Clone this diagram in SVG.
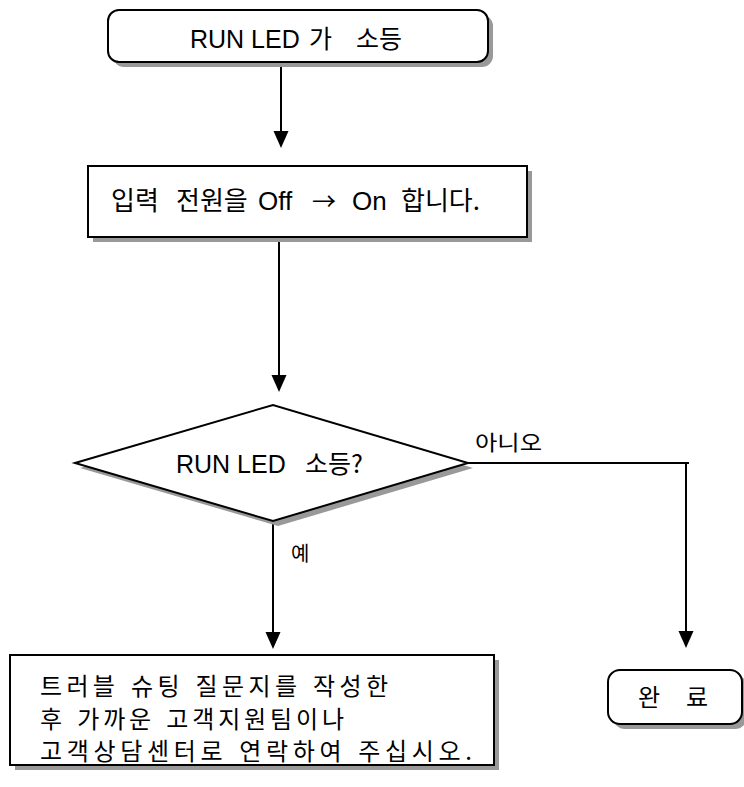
<svg xmlns="http://www.w3.org/2000/svg" width="744" height="787" viewBox="0 0 744 787">
<style>
.box{fill:#fff;stroke:#000;stroke-width:2}
.sh{fill:#999;stroke:none}
.t{font-family:"Liberation Sans","Noto Sans CJK KR",sans-serif;fill:#000}
.k{font-family:"Noto Sans CJK KR","Liberation Sans",sans-serif;fill:#000}
.ln{stroke:#000;stroke-width:2;fill:none}
.ah{fill:#000}
.body{font-size:24px;word-spacing:2px}
</style>
<g id="connectors">
<line class="ln" x1="281" y1="63" x2="281" y2="134"/>
<path class="ah" d="M273.5,131 L288.5,131 L281,148 Z"/>
<line class="ln" x1="279" y1="238" x2="279" y2="378"/>
<path class="ah" d="M271.5,375 L286.5,375 L279,392 Z"/>
<polyline class="ln" points="468,463 689,463"/>
<line class="ln" x1="686" y1="463" x2="686" y2="634"/>
<path class="ah" d="M678.5,631 L693.5,631 L686,648 Z"/>
<line class="ln" x1="273" y1="521" x2="273" y2="635"/>
<path class="ah" d="M265.5,632 L280.5,632 L273,649 Z"/>
<text class="k" x="475" y="450" font-size="21" textLength="67" lengthAdjust="spacingAndGlyphs">아니오</text>
<text class="k" x="291" y="561" font-size="20">예</text>
</g>
<g id="start">
<rect class="sh" x="113" y="15" width="380" height="52" rx="11"/>
<rect class="box" x="108" y="10" width="380" height="52" rx="11"/>
<text class="t" y="48" font-size="25"><tspan x="190">RUN LED</tspan><tspan class="k" x="309">가</tspan><tspan class="k" x="356">소등</tspan></text>
</g>
<g id="power">
<rect class="sh" x="93" y="171" width="439" height="71"/>
<rect class="box" x="88" y="166" width="439" height="71"/>
<text class="t" y="210" font-size="26"><tspan class="k" x="111">입력</tspan><tspan class="k" x="176">전원을</tspan><tspan x="258">Off</tspan><tspan class="k" x="312" font-size="24">→</tspan><tspan x="352">On</tspan><tspan class="k" x="401">합니다.</tspan></text>
</g>
<g id="decision">
<polygon class="sh" points="80,468 278,410 473,468 278,526"/>
<polygon class="box" points="75,463 273,405 468,463 273,521"/>
<text class="t" y="473" font-size="25"><tspan x="176">RUN LED</tspan><tspan class="k" x="305">소등?</tspan></text>
</g>
<g id="trouble">
<rect class="sh" x="15" y="660" width="484" height="110"/>
<rect class="box" x="10" y="655" width="484" height="110"/>
<text class="k body" x="40" y="695" textLength="348" lengthAdjust="spacing">트러블 슈팅 질문지를 작성한</text>
<text class="k body" x="40" y="728" textLength="304" lengthAdjust="spacing">후 가까운 고객지원팀이나</text>
<text class="k body" x="40" y="760" textLength="432" lengthAdjust="spacing">고객상담센터로 연락하여 주십시오.</text>
</g>
<g id="done">
<rect class="sh" x="613" y="675" width="134" height="54" rx="12"/>
<rect class="box" x="608" y="670" width="134" height="54" rx="12"/>
<text class="k" y="706" font-size="24"><tspan x="638">완</tspan><tspan x="686">료</tspan></text>
</g>
</svg>
